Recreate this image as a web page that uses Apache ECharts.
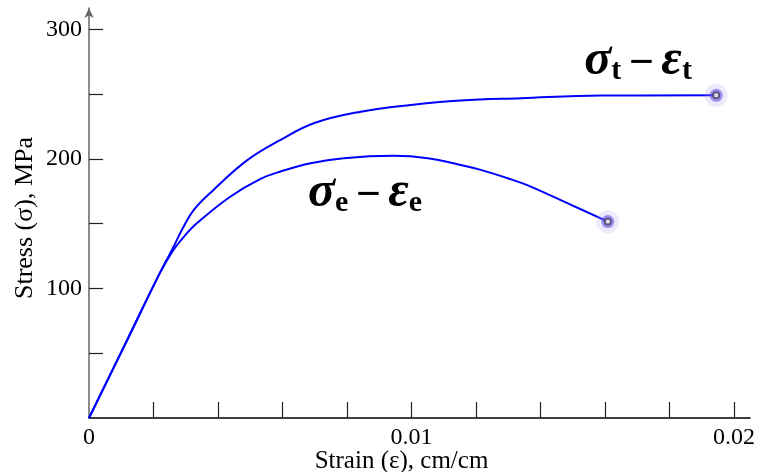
<!DOCTYPE html>
<html>
<head>
<meta charset="utf-8">
<script src="https://cdn.jsdelivr.net/npm/echarts@6/dist/echarts.min.js"></script>
<style>
  html, body { margin: 0; padding: 0; background: #fff; }
  #chart { width: 763px; height: 472px; }
</style>
</head>
<body>
<div id="chart"></div>
<script>
// True stress-strain curve (sigma_t vs epsilon_t)
const trueStrain = [0, 0.0012, 0.0022, 0.0026, 0.0029, 0.00325, 0.00386, 0.00491, 0.00594, 0.00697, 0.00843, 0.00998, 0.01153, 0.0134, 0.01588, 0.01945];
const trueStress = [0, 61, 112, 131, 146, 160.6, 176, 199, 214.6, 227.5, 236.4, 241.6, 245, 246.8, 248.8, 249];

// Engineering stress-strain curve (sigma_e vs epsilon_e)
const engStrain = [0, 0.0012, 0.0022, 0.0026, 0.003, 0.00335, 0.00439, 0.00532, 0.00594, 0.00687, 0.0079, 0.00945, 0.0105, 0.01153, 0.01215, 0.01308, 0.0137, 0.01495, 0.01609];
const engStress = [0, 61, 112, 129, 141.5, 150.4, 170.9, 184.5, 190.2, 196.6, 200.5, 202.3, 200.5, 195.3, 191.5, 184.3, 178.6, 164.5, 151.6];

// Axis ticks and labels
const xTicks = [0.002, 0.004, 0.006, 0.008, 0.01, 0.012, 0.014, 0.016, 0.018, 0.02];
const xLabels = [0, 0.01, 0.02];
const yTicks = [50, 100, 150, 200, 250, 300];
const yLabels = [100, 200, 300];

// Curve captions, anchored in data space
const captionTrueAt = [0.01703, 276];
const captionEngAt = [0.00856, 174];

const zip = (xs, ys) => xs.map((x, i) => [x, ys[i]]);
const last = (xs, ys) => [xs[xs.length - 1], ys[ys.length - 1]];
const endPoints = [last(trueStrain, trueStress), last(engStrain, engStress)];

const serif = '"Liberation Serif", "Times New Roman", serif';

const captionRich = {
  g: { fontFamily: serif, fontSize: 50, fontWeight: 'bold', fontStyle: 'italic', fill: '#000', verticalAlign: 'bottom', lineHeight: 50 },
  s: { fontFamily: serif, fontSize: 30, fontWeight: 'bold', fontStyle: 'normal', fill: '#000', verticalAlign: 'bottom', lineHeight: 42 },
  m: { fontFamily: serif, fontSize: 44, fontWeight: 'bold', fontStyle: 'normal', fill: '#000', verticalAlign: 'bottom', lineHeight: 52 }
};

const chart = echarts.init(document.getElementById('chart'), null, { renderer: 'canvas' });

chart.setOption({
  animation: false,
  backgroundColor: '#fff',
  grid: { left: 89, right: 13, top: 8, bottom: 54, outerBoundsMode: 'none', containLabel: false },
  xAxis: {
    type: 'value',
    min: 0,
    max: 0.0205,
    name: 'Strain (ε), cm/cm',
    nameLocation: 'middle',
    nameGap: 31,
    nameMoveOverlap: false,
    nameTextStyle: { fontFamily: serif, fontSize: 25, color: '#000', padding: [0, 36, 0, 0] },
    axisLine: { onZero: false, lineStyle: { color: '#000', width: 1.5 } },
    axisTick: { inside: true, length: 16, customValues: xTicks, lineStyle: { color: '#222', width: 1.2 } },
    axisLabel: {
      customValues: xLabels,
      margin: 8,
      fontFamily: serif,
      fontSize: 24,
      color: '#000',
      formatter: v => String(v)
    },
    splitLine: { show: false }
  },
  yAxis: {
    type: 'value',
    min: 0,
    max: 316.4,
    name: 'Stress (σ), MPa',
    nameLocation: 'middle',
    nameGap: 51,
    nameMoveOverlap: false,
    nameTextStyle: { fontFamily: serif, fontSize: 26, color: '#000', padding: [0, 10, 0, 0] },
    axisLine: {
      onZero: false,
      symbol: ['none', 'arrow'],
      symbolSize: [7, 10],
      lineStyle: { color: '#666', width: 1.5 }
    },
    axisTick: { inside: true, length: 14, customValues: yTicks, lineStyle: { color: '#222', width: 1.2 } },
    axisLabel: {
      customValues: yLabels,
      margin: 7,
      fontFamily: serif,
      fontSize: 24,
      color: '#000'
    },
    splitLine: { show: false }
  },
  series: [
    {
      name: 'true',
      type: 'line',
      data: zip(trueStrain, trueStress),
      smooth: 0.4,
      showSymbol: false,
      lineStyle: { color: '#0000ff', width: 2 },
      z: 3
    },
    {
      name: 'engineering',
      type: 'line',
      data: zip(engStrain, engStress),
      smooth: 0.4,
      showSymbol: false,
      lineStyle: { color: '#0000ff', width: 2 },
      z: 3
    },
    // End-point markers: soft halo, blue ring, dark ring with white core
    {
      type: 'scatter',
      data: endPoints,
      symbolSize: 23,
      itemStyle: { color: 'rgba(175,160,235,0.28)' },
      silent: true,
      z: 4
    },
    {
      type: 'scatter',
      data: endPoints,
      symbolSize: 13,
      itemStyle: { color: 'rgba(100,80,235,0.75)' },
      silent: true,
      z: 5
    },
    {
      type: 'scatter',
      data: endPoints,
      symbolSize: 6,
      itemStyle: { color: '#fff', borderColor: '#4a3f5e', borderWidth: 2 },
      silent: true,
      z: 6
    }
  ]
});

// Curve captions placed at their data-space anchors
function captionAt(anchor, text) {
  const [x, y] = chart.convertToPixel({ gridIndex: 0 }, anchor);
  return {
    type: 'text',
    x: x,
    y: y,
    z: 10,
    silent: true,
    style: {
      text: text,
      rich: captionRich,
      align: 'center',
      verticalAlign: 'middle',
      fill: '#000'
    }
  };
}

chart.setOption({
  graphic: [
    captionAt(captionTrueAt, '{g|σ}{s|t }{m|−}{s| }{g|ε}{s|t}'),
    captionAt(captionEngAt, '{g|σ}{s|e }{m|−}{s| }{g|ε}{s|e}')
  ]
});
</script>
</body>
</html>
